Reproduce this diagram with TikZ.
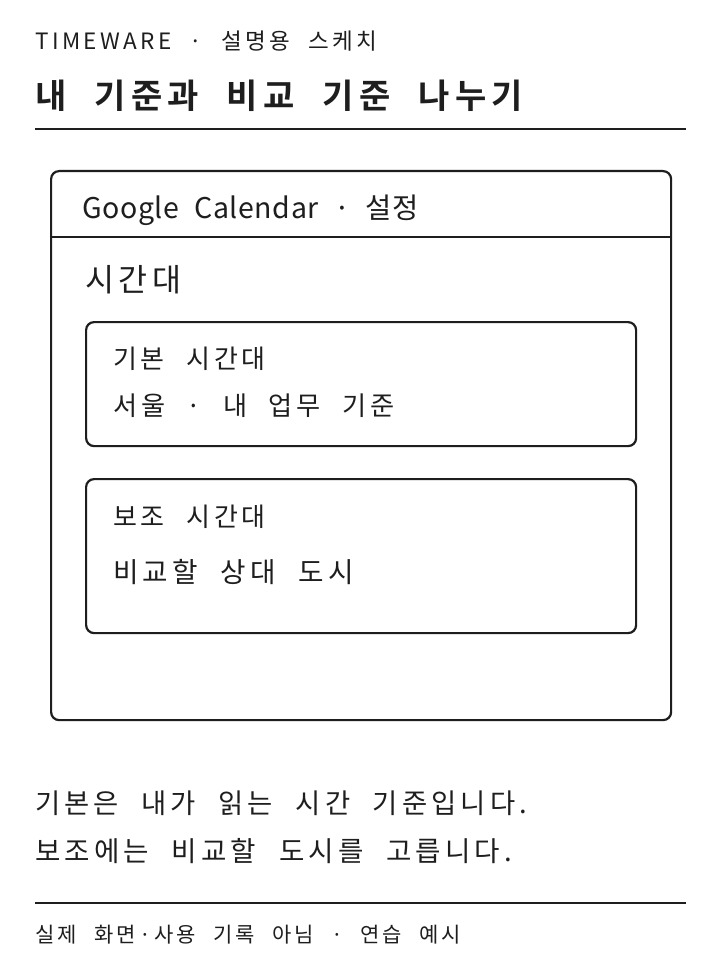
\documentclass[tikz,border=0pt]{standalone}
\usepackage{fontspec}
\newfontfamily\hand[LetterSpace=15,WordSpace=2.2]{Noto Sans CJK KR}
\newfontfamily\handlatin[LetterSpace=2,WordSpace=2.2]{Noto Sans CJK KR}
\newfontfamily\handbold[LetterSpace=15,WordSpace=2.2]{Noto Sans CJK KR Bold}
\definecolor{ink}{HTML}{1E1E1E}
\begin{document}
\begin{tikzpicture}[x=1pt,y=-1pt,
  txt/.style={anchor=west,inner sep=0pt,text=ink},
  box/.style={draw=ink,line width=2.2pt,rounded corners=8pt},
  rule/.style={draw=ink,line width=2pt}]
\useasboundingbox (0,0) rectangle (720,960);
\fill[white] (0,0) rectangle (720,960);
% header
\node[txt,font=\hand\fontsize{22.5}{26}\selectfont] (hdr) at (35,41) {TIMEWARE · 설명용 스케치};
\node[txt,font=\handbold\fontsize{34}{40}\selectfont] (title) at (35,96) {내 기준과 비교 기준 나누기};
\coordinate (r1a) at (35,129); \coordinate (r1b) at (686,129);
\draw[rule] (r1a) -- (r1b);
% outer panel
\node[box,minimum width=620pt,minimum height=549pt,anchor=north west,inner sep=0pt] (panel) at (50,170) {};
\coordinate (sepa) at (50,237); \coordinate (sepb) at (670,237);
\draw[rule] (sepa) -- (sepb);
\node[txt,font=\handlatin\fontsize{28.5}{32}\selectfont] (gc) at (82,210) {Google Calendar · 설정};
\node[txt,font=\hand\fontsize{31.5}{35}\selectfont] (tz) at (85,280) {시간대};
% box 1
\node[box,minimum width=550pt,minimum height=124pt,anchor=north west,inner sep=0pt] (b1) at (85,321) {};
\node[txt,font=\hand\fontsize{26}{30}\selectfont] (b1a) at (113,359) {기본 시간대};
\node[txt,font=\hand\fontsize{26.2}{30}\selectfont] (b1b) at (113,406) {서울 · 내 업무 기준};
% box 2
\node[box,minimum width=550pt,minimum height=154pt,anchor=north west,inner sep=0pt] (b2) at (85,478) {};
\node[txt,font=\hand\fontsize{26}{30}\selectfont] (b2a) at (113,517) {보조 시간대};
\node[txt,font=\hand\fontsize{27.7}{31}\selectfont] (b2b) at (113,572) {비교할 상대 도시};
% explanation
\node[txt,font=\hand\fontsize{27.4}{31}\selectfont] (e1) at (35,803) {기본은 내가 읽는 시간 기준입니다.};
\node[txt,font=\hand\fontsize{27.6}{31}\selectfont] (e2) at (35,851) {보조에는 비교할 도시를 고릅니다.};
\coordinate (r2a) at (35,903); \coordinate (r2b) at (686,903);
\draw[rule] (r2a) -- (r2b);
\node[txt,font=\hand\fontsize{21}{25}\selectfont] (foot) at (35,935) {실제 화면·사용 기록 아님 · 연습 예시};
\end{tikzpicture}
\end{document}
